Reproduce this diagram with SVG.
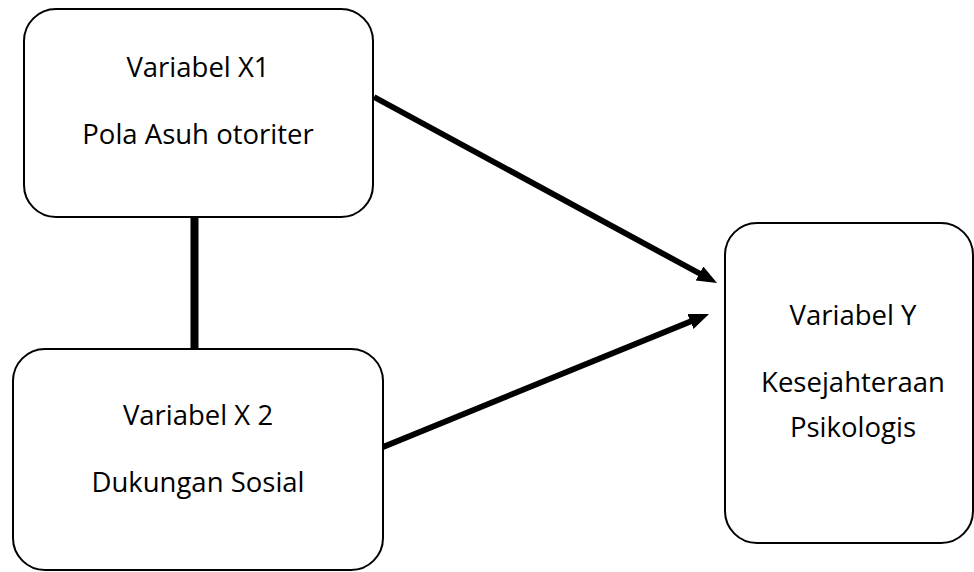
<svg xmlns="http://www.w3.org/2000/svg" width="974" height="572" viewBox="0 0 974 572">
<style>
.box{fill:#fff;stroke:#000;stroke-width:2}
.t{font-family:"Open Sans","Liberation Sans",Arial,sans-serif;font-size:27.5px;fill:#000;text-anchor:middle}
.c{stroke:#000;fill:none}
</style>
<defs>
<marker id="ah" markerUnits="userSpaceOnUse" markerWidth="22" markerHeight="18" refX="8" refY="8" orient="auto" viewBox="0 0 22 18">
<path d="M0,0 L20,8 L0,16 z" fill="#000"/>
</marker>
</defs>
<rect width="974" height="572" fill="#fff"/>
<g id="connectors">
<line class="c" x1="194.5" y1="217" x2="194.5" y2="350" stroke-width="8"/>
<line class="c" x1="374" y1="97" x2="706.5" y2="277.3" stroke-width="5.8" marker-end="url(#ah)"/>
<line class="c" x1="383" y1="447" x2="697.9" y2="318.5" stroke-width="5.8" marker-end="url(#ah)"/>
</g>
<g id="x1">
<rect class="box" x="24" y="9" width="349" height="208" rx="32"/>
<text class="t" x="198" y="77">Variabel X1</text>
<text class="t" x="198" y="144">Pola Asuh otoriter</text>
</g>
<g id="x2">
<rect class="box" x="13" y="349" width="370" height="221" rx="32"/>
<text class="t" x="198" y="425">Variabel X 2</text>
<text class="t" x="198" y="492">Dukungan Sosial</text>
</g>
<g id="y">
<rect class="box" x="725" y="223" width="248" height="320" rx="32"/>
<text class="t" x="853" y="325">Variabel Y</text>
<text class="t" x="853" y="392">Kesejahteraan</text>
<text class="t" x="853" y="437">Psikologis</text>
</g>
</svg>
